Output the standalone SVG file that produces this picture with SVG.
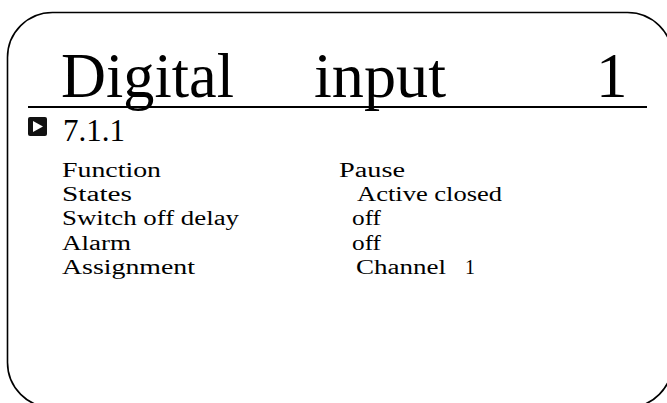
<svg xmlns="http://www.w3.org/2000/svg" width="667" height="403" viewBox="0 0 667 403">
<style>
  .t { font-family: "Liberation Serif", "Times New Roman", "DejaVu Serif", serif; fill: #000; }
  .title { font-size: 63px; }
  .row { font-size: 20px; }
</style>
<rect width="667" height="403" fill="#fff"/>
<g id="frame">
  <rect x="7.5" y="12.5" width="665" height="395" rx="45" ry="45" fill="none" stroke="#000" stroke-width="1.6"/>
</g>
<g id="title">
  <text class="t title" x="61" y="97" textLength="173" lengthAdjust="spacingAndGlyphs">Digital</text>
  <text class="t title" x="314" y="97" textLength="132" lengthAdjust="spacingAndGlyphs">input</text>
  <text class="t title" x="596" y="97">1</text>
  <line x1="28" y1="107" x2="647" y2="107" stroke="#000" stroke-width="2"/>
</g>
<g id="section">
  <rect x="28" y="117" width="19" height="19" rx="2" fill="#111"/>
  <polygon points="33,121 43,126.5 33,132" fill="#fff"/>
  <text class="t" x="63" y="141" font-size="31">7.1.1</text>
</g>
<g id="labels">
  <text class="t row" x="62" y="177" textLength="99" lengthAdjust="spacingAndGlyphs">Function</text>
  <text class="t row" x="62" y="201" textLength="70" lengthAdjust="spacingAndGlyphs">States</text>
  <text class="t row" x="62" y="225" textLength="177" lengthAdjust="spacingAndGlyphs">Switch off delay</text>
  <text class="t row" x="62" y="250" textLength="69" lengthAdjust="spacingAndGlyphs">Alarm</text>
  <text class="t row" x="62" y="274" textLength="133" lengthAdjust="spacingAndGlyphs">Assignment</text>
</g>
<g id="values">
  <text class="t row" x="339" y="177" textLength="66" lengthAdjust="spacingAndGlyphs">Pause</text>
  <text class="t row" x="357" y="201" textLength="145" lengthAdjust="spacingAndGlyphs">Active closed</text>
  <text class="t row" x="352" y="225" textLength="29" lengthAdjust="spacingAndGlyphs">off</text>
  <text class="t row" x="352" y="250" textLength="29" lengthAdjust="spacingAndGlyphs">off</text>
  <text class="t row" x="356" y="274" textLength="90" lengthAdjust="spacingAndGlyphs">Channel</text>
  <text class="t row" x="465" y="274">1</text>
</g>
</svg>
